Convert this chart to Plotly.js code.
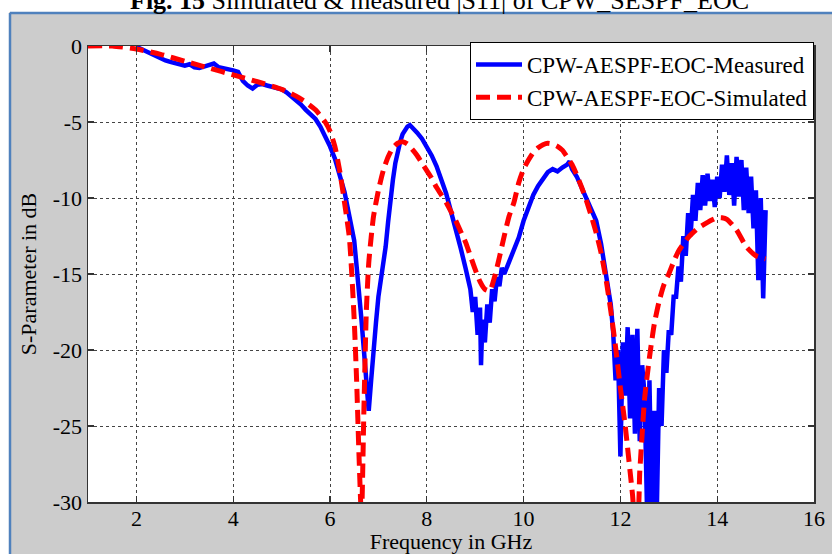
<!DOCTYPE html>
<html>
<head>
<meta charset="utf-8">
<script src="https://cdn.plot.ly/plotly-3.0.1.min.js"></script>
<style>html,body{margin:0;padding:0;background:#fff;}#chart{width:832px;height:554px;}</style>
</head>
<body>
<div id="chart"></div>
<script>
// ---- data ----
var measFreq = [2.0,2.1,2.2,2.3,2.4,2.5,2.6,2.7,2.8,2.9,3.0,3.1,3.2,3.3,3.4,3.5,3.6,3.7,3.8,3.9,4.0,4.1,4.15,4.2,4.3,4.4,4.5,4.6,4.7,4.8,4.9,5.0,5.1,5.2,5.3,5.4,5.5,5.6,5.7,5.8,5.9,6.0,6.1,6.2,6.3,6.4,6.5,6.55,6.6,6.65,6.7,6.75,6.8,6.85,6.9,6.95,7.0,7.05,7.1,7.15,7.2,7.25,7.3,7.35,7.4,7.45,7.5,7.55,7.6,7.65,7.7,7.75,7.8,7.9,8.0,8.1,8.2,8.3,8.4,8.5,8.6,8.7,8.8,8.9,8.95,9.0,9.05,9.1,9.12,9.15,9.2,9.25,9.3,9.35,9.4,9.45,9.5,9.55,9.6,9.7,9.8,9.9,10.0,10.1,10.2,10.3,10.4,10.5,10.6,10.7,10.8,10.9,10.95,11.0,11.1,11.2,11.3,11.4,11.5,11.6,11.7,11.8,11.85,11.9,11.95,12.0,12.05,12.1,12.15,12.2,12.25,12.3,12.35,12.4,12.45,12.5,12.55,12.6,12.65,12.7,12.75,12.8,12.85,12.9,12.95,13.0,13.05,13.1,13.15,13.2,13.25,13.3,13.35,13.4,13.45,13.5,13.55,13.6,13.65,13.7,13.75,13.8,13.85,13.9,13.95,14.0,14.05,14.1,14.15,14.2,14.25,14.3,14.35,14.4,14.45,14.5,14.55,14.6,14.65,14.7,14.75,14.8,14.85,14.9,14.95,15.0];
var measDb = [-0.05,-0.2,-0.4,-0.55,-0.7,-0.85,-0.95,-1.05,-1.15,-1.25,-1.3,-1.2,-1.4,-1.45,-1.35,-1.25,-1.15,-1.4,-1.45,-1.55,-1.6,-1.7,-2.0,-2.3,-2.6,-2.8,-2.55,-2.5,-2.6,-2.7,-2.75,-2.85,-3.05,-3.3,-3.55,-3.85,-4.2,-4.5,-4.8,-5.3,-5.9,-6.6,-7.4,-8.4,-9.6,-11.2,-12.8,-14.5,-16.0,-18.0,-20.0,-22.0,-24.0,-22.0,-19.8,-18.2,-16.5,-15.5,-14.3,-13.2,-11.6,-10.0,-8.8,-7.7,-6.9,-6.3,-5.8,-5.5,-5.3,-5.2,-5.35,-5.5,-5.7,-6.1,-6.6,-7.2,-7.9,-8.7,-9.7,-10.9,-12.0,-13.3,-14.6,-16.0,-17.5,-16.5,-19.0,-17.2,-21.0,-18.0,-19.5,-17.0,-18.2,-16.0,-16.8,-15.2,-15.8,-14.6,-15.0,-14.2,-13.6,-12.6,-11.5,-10.6,-9.8,-9.2,-8.7,-8.3,-8.1,-8.25,-8.0,-7.8,-7.6,-8.1,-8.6,-9.3,-10.0,-10.8,-11.5,-13.0,-14.8,-17.0,-18.8,-22.0,-20.0,-27.0,-19.5,-23.0,-18.5,-24.5,-19.0,-25.5,-18.6,-26.0,-21.0,-23.0,-30.5,-22.0,-31.0,-24.0,-31.0,-22.5,-25.0,-20.0,-21.5,-18.7,-19.0,-16.5,-16.5,-14.5,-15.5,-12.5,-13.8,-11.0,-12.5,-9.8,-11.5,-9.0,-10.8,-8.5,-10.5,-8.4,-10.2,-8.8,-10.6,-8.6,-10.0,-7.8,-9.6,-7.2,-9.8,-7.7,-10.5,-7.3,-9.9,-7.5,-10.8,-8.0,-11.0,-8.6,-12.0,-9.5,-15.4,-10.0,-16.6,-10.8];

var simFreq = [1.0,1.5,2.0,2.5,3.0,3.5,4.0,4.5,5.0,5.3,5.5,5.7,5.9,6.0,6.1,6.2,6.3,6.4,6.45,6.5,6.55,6.6,6.65,6.7,6.75,6.8,6.85,6.9,7.0,7.1,7.2,7.3,7.4,7.5,7.6,7.7,7.8,7.9,8.0,8.1,8.2,8.3,8.4,8.5,8.6,8.7,8.8,8.9,9.0,9.1,9.2,9.3,9.4,9.5,9.6,9.7,9.8,9.9,10.0,10.1,10.2,10.3,10.4,10.5,10.6,10.7,10.8,10.9,11.0,11.1,11.2,11.3,11.4,11.5,11.6,11.7,11.8,11.9,12.0,12.1,12.2,12.25,12.3,12.35,12.4,12.45,12.5,12.6,12.7,12.8,12.9,13.0,13.1,13.2,13.4,13.6,13.8,14.0,14.1,14.2,14.4,14.6,14.8,15.0];
var simDb = [0,0,-0.2,-0.55,-1.0,-1.45,-1.9,-2.35,-2.85,-3.3,-3.7,-4.2,-5.0,-5.6,-6.6,-8.2,-10.3,-12.6,-15.0,-18.0,-22.0,-27.0,-31.0,-24.0,-17.5,-14.3,-12.6,-11.2,-9.5,-8.2,-7.3,-6.7,-6.4,-6.3,-6.45,-6.8,-7.2,-7.7,-8.2,-8.7,-9.3,-9.8,-10.3,-10.9,-11.5,-12.2,-12.9,-13.8,-14.7,-15.5,-16.0,-16.1,-15.2,-13.9,-12.5,-11.2,-10.3,-9.0,-8.1,-7.5,-7.0,-6.7,-6.5,-6.4,-6.45,-6.6,-6.85,-7.3,-7.8,-8.5,-9.3,-10.2,-11.2,-12.3,-13.6,-15.3,-17.4,-19.8,-22.5,-25.0,-28.0,-29.5,-31.0,-31.0,-28.0,-25.5,-23.2,-20.5,-18.3,-16.8,-15.7,-15.0,-14.2,-13.5,-12.6,-12.0,-11.6,-11.3,-11.3,-11.4,-12.1,-13.2,-13.8,-14.0];

var seriesNames = ["CPW-AESPF-EOC-Measured", "CPW-AESPF-EOC-Simulated"];
var xTicks = [2,4,6,8,10,12,14,16];
var yTicks = [0,-5,-10,-15,-20,-25,-30];
var figTitle = "<b>Fig. 15</b> Simulated &amp; measured |S11| of CPW_SESPF_EOC";
var xTitle = "Frequency in GHz";
var yTitle = "S-Parameter in dB";

// ---- layout geometry ----
var W = 832, H = 554, mL = 88, mR = 18, mT = 46, mB = 52;
var pw = W - mL - mR, ph = H - mT - mB;
function px2x(px){ return (px - mL) / pw; }
function py2y(py){ return (H - mB - py) / ph; }

var font = "Liberation Serif, Times New Roman, serif";
var gridCol = "#444444";

var traces = [
  {x: measFreq, y: measDb, type: "scatter", mode: "lines", name: seriesNames[0],
   line: {color: "#0000ff", width: 4.5}},
  {x: simFreq, y: simDb, type: "scatter", mode: "lines", name: seriesNames[1],
   line: {color: "#ff0000", width: 5, dash: "14px,7px", shape: "spline", smoothing: 0.6}}
];

var axisCommon = {
  showline: true, linecolor: "#333333", linewidth: 1.5, mirror: "ticks",
  ticks: "inside", ticklen: 6, tickcolor: "#333333", tickwidth: 1.2,
  showgrid: true, gridcolor: gridCol, gridwidth: 1, griddash: "dot",
  zeroline: false, tickfont: {family: font, size: 22, color: "#000"}
};

var layout = {
  width: W, height: H,
  margin: {l: mL, r: mR, t: mT, b: mB, pad: 0},
  paper_bgcolor: "#cccccc", plot_bgcolor: "#ffffff",
  font: {family: font, color: "#000"},
  showlegend: true,
  legend: {x: 1, xanchor: "right", y: py2y(42), yanchor: "top",
    bgcolor: "#ffffff", bordercolor: "#000000", borderwidth: 1,
    font: {family: font, size: 23, color: "#000"}, itemwidth: 46, tracegroupgap: 0},
  xaxis: Object.assign({}, axisCommon, {range: [1, 16], tickvals: xTicks, ticktext: xTicks.map(String),
    ticklabelstandoff: -4,
    title: {text: xTitle, font: {family: font, size: 22, color: "#000"}, standoff: 13}}),
  yaxis: Object.assign({}, axisCommon, {range: [-30, 0], tickvals: yTicks, ticktext: yTicks.map(String),
    title: {text: yTitle, font: {family: font, size: 22, color: "#000"}, standoff: 10}}),
  shapes: [
    {type: "rect", xref: "paper", yref: "paper", x0: px2x(-5), x1: px2x(W + 5), y0: py2y(12), y1: py2y(-5),
     fillcolor: "#ffffff", line: {width: 0}, layer: "below"},
    {type: "rect", xref: "paper", yref: "paper", x0: px2x(-5), x1: px2x(9), y0: py2y(H + 5), y1: py2y(-5),
     fillcolor: "#ffffff", line: {width: 0}, layer: "below"},
    {type: "line", xref: "paper", yref: "paper", x0: px2x(10), x1: px2x(W + 5), y0: py2y(13), y1: py2y(13),
     line: {color: "#4f81bd", width: 2.5}, layer: "below"},
    {type: "line", xref: "paper", yref: "paper", x0: px2x(10), x1: px2x(10), y0: py2y(H + 5), y1: py2y(13),
     line: {color: "#4f81bd", width: 2.5}, layer: "below"}
  ],
  annotations: [
    {text: figTitle, xref: "paper", yref: "paper", x: px2x(439), y: py2y(17), xanchor: "center", yanchor: "bottom",
     showarrow: false, font: {family: font, size: 26, color: "#000"}}
  ]
};

Plotly.newPlot("chart", traces, layout, {displayModeBar: false, staticPlot: true});
</script>
</body>
</html>
